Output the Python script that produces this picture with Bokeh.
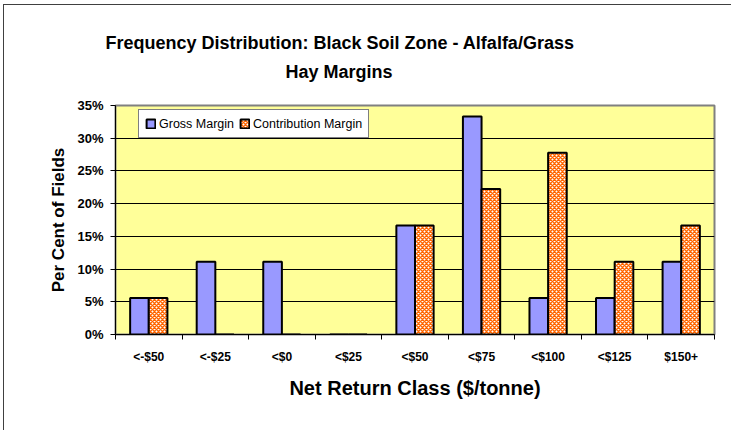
from bokeh.plotting import figure
from bokeh.models import (Range1d, FixedTicker, NumeralTickFormatter, Title, Legend,
                          LegendItem, ColumnDataSource)
from bokeh.transform import dodge
from bokeh.embed import file_html
from bokeh.resources import INLINE

# ---- data ----
categories = ["<-$50", "<-$25", "<$0", "<$25", "<$50", "<$75", "<$100", "<$125", "$150+"]
gross_margin = [5.56, 11.11, 11.11, 0.0, 16.67, 33.33, 5.56, 5.56, 11.11]          # per cent
contribution_margin = [5.56, 0.0, 0.0, 0.0, 16.67, 22.22, 27.78, 11.11, 16.67]     # per cent
y_ticks = [0, 5, 10, 15, 20, 25, 30, 35]                                           # per cent
title_lines = ["Frequency Distribution: Black Soil Zone - Alfalfa/Grass", "Hay Margins"]

FONT = "Liberation Sans"

x_centers = [i + 0.5 for i in range(len(categories))]
src = ColumnDataSource(dict(
    x=x_centers,
    gross=[v / 100 for v in gross_margin],
    contrib=[v / 100 for v in contribution_margin],
))

p = figure(width=728, height=426, title=None,
           x_range=Range1d(0, len(categories)), y_range=Range1d(0, y_ticks[-1] / 100),
           output_backend="svg", toolbar_location=None,
           min_border_left=111, min_border_right=18, min_border_top=100, min_border_bottom=97)

p.background_fill_color = "#FFFF99"
p.border_fill_color = "white"
p.outline_line_color = "#808080"
p.outline_line_width = 2

r1 = p.vbar(x=dodge("x", -0.14, range=p.x_range), top="gross", width=0.28, source=src,
            fill_color="#9999FF", line_color="black", line_width=2)
r2 = p.vbar(x=dodge("x", 0.14, range=p.x_range), top="contrib", width=0.28, source=src,
            fill_color="white", hatch_pattern="diagonal_cross", hatch_color="#FF6600",
            hatch_scale=4, hatch_weight=1.5, line_color="black", line_width=2)

# x axis
xa = p.xaxis[0]
xa.ticker = FixedTicker(ticks=x_centers, minor_ticks=list(range(len(categories) + 1)))
xa.major_label_overrides = {x: c for x, c in zip(x_centers, categories)}
xa.major_tick_out = 0
xa.major_tick_in = 0
xa.minor_tick_out = 5
xa.minor_tick_in = 0
xa.minor_tick_line_color = "black"
xa.axis_line_color = "black"
xa.major_label_text_font = FONT
xa.major_label_text_font_style = "bold"
xa.major_label_text_font_size = "12px"
xa.major_label_text_color = "black"
xa.major_label_standoff = 10
xa.axis_label = "Net Return Class ($/tonne)"
xa.axis_label_text_font = FONT
xa.axis_label_text_font_style = "bold"
xa.axis_label_text_font_size = "20px"
xa.axis_label_text_color = "black"
xa.axis_label_standoff = 10

# y axis
ya = p.yaxis[0]
yticker = FixedTicker(ticks=[t / 100 for t in y_ticks])
ya.ticker = yticker
ya.formatter = NumeralTickFormatter(format="0%")
ya.major_tick_out = 5
ya.major_tick_in = 0
ya.minor_tick_line_color = None
ya.axis_line_color = "black"
ya.major_label_text_font = FONT
ya.major_label_text_font_style = "bold"
ya.major_label_text_font_size = "13px"
ya.major_label_text_color = "black"
ya.major_label_standoff = 7
ya.axis_label = "Per Cent of Fields"
ya.axis_label_text_font = FONT
ya.axis_label_text_font_style = "bold"
ya.axis_label_text_font_size = "17px"
ya.axis_label_text_color = "black"
ya.axis_label_standoff = 6

p.xgrid.grid_line_color = None
p.ygrid.ticker = yticker
p.ygrid.grid_line_color = "black"
p.ygrid.grid_line_width = 1

# title (two lines); first added sits closest to the frame
p.add_layout(Title(text=title_lines[1], align="left", offset=170, standoff=48,
                   text_font=FONT, text_font_style="bold", text_font_size="18px",
                   text_color="black"), "above")
p.add_layout(Title(text=title_lines[0], align="left", offset=-10, standoff=-34,
                   text_font=FONT, text_font_style="bold", text_font_size="18px",
                   text_color="black"), "above")

legend = Legend(items=[LegendItem(label="Gross Margin", renderers=[r1]),
                       LegendItem(label="Contribution Margin", renderers=[r2])],
                location=(23, 196), orientation="horizontal")
legend.border_line_color = "black"
legend.border_line_width = 1
legend.background_fill_color = "white"
legend.background_fill_alpha = 1
legend.padding = 6
legend.margin = 0
legend.spacing = 5
legend.label_standoff = 3
legend.glyph_width = 11
legend.glyph_height = 11
legend.label_height = 15
legend.label_text_font = FONT
legend.label_text_font_size = "12.5px"
legend.label_text_color = "black"
p.add_layout(legend, "center")

p.styles = {"margin-left": "3px", "margin-top": "4px",
            "border-left": "1px solid #404040", "border-top": "1px solid #404040"}

open("out.html", "w").write(file_html(p, INLINE))
